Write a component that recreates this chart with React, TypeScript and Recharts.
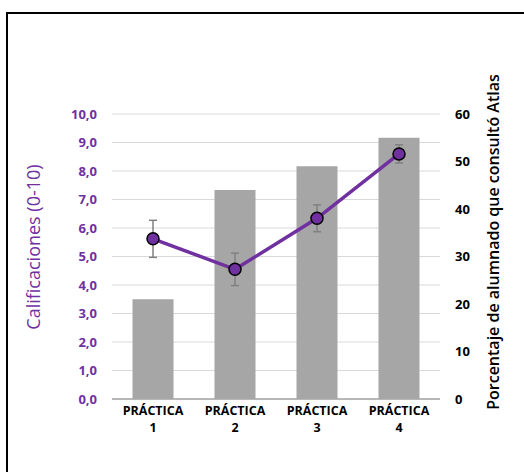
import React from 'react';
import {
  ComposedChart,
  Bar,
  Line,
  ErrorBar,
  XAxis,
  YAxis,
  CartesianGrid,
} from 'recharts';

const categories = ['PRÁCTICA 1', 'PRÁCTICA 2', 'PRÁCTICA 3', 'PRÁCTICA 4'];
const porcentaje = [21, 44, 49, 55];
const calificaciones = [5.62, 4.55, 6.34, 8.6];
const errores = [0.65, 0.57, 0.47, 0.32];
const leftTicks = [0, 1, 2, 3, 4, 5, 6, 7, 8, 9, 10];
const rightTicks = [0, 10, 20, 30, 40, 50, 60];

const data = categories.map((name, i) => ({
  name,
  pct: porcentaje[i],
  nota: calificaciones[i],
  err: errores[i],
}));

const PURPLE = '#7030A0';
const FONT = '"Open Sans", sans-serif';

function XTick(props: any) {
  const { x, y, payload } = props;
  const parts = String(payload.value).split(' ');
  return (
    <g>
      <text x={x} y={y} textAnchor="middle" fontFamily={FONT} fontWeight={700} fontSize={12.5} fill="#000">
        <tspan x={x} dy={8}>{parts[0]}</tspan>
        <tspan x={x} dy={17}>{parts[1]}</tspan>
      </text>
    </g>
  );
}

function LeftTitle() {
  return (
    <text
      x={33}
      y={247}
      transform="rotate(-90, 33, 247)"
      textAnchor="middle"
      dominantBaseline="central"
      fontFamily={FONT}
      fontSize={18}
      fill={PURPLE}
    >
      Calificaciones (0-10)
    </text>
  );
}

function RightTitle() {
  return (
    <text
      x={493}
      y={242}
      transform="rotate(-90, 493, 242)"
      textAnchor="middle"
      dominantBaseline="central"
      fontFamily={FONT}
      fontWeight={600}
      fontSize={16}
      fill="#000"
    >
      Porcentaje de alumnado que consultó Atlas
    </text>
  );
}

export default function App() {
  return (
    <div style={{ position: 'absolute', left: 0, top: 0, width: 524, height: 472, overflow: 'hidden', background: '#fff' }}>
      <div
        style={{
          position: 'absolute',
          left: 6,
          top: 12,
          width: 540,
          height: 500,
          border: '2px solid #000',
        }}
      />
      <div style={{ position: 'absolute', left: 0, top: 0 }}>
        <ComposedChart
          width={524}
          height={472}
          data={data}
          margin={{ top: 114, right: 0, bottom: 0, left: 0 }}
          barCategoryGap="25%"
        >
          <CartesianGrid yAxisId="left" vertical={false} stroke="#d9d9d9" strokeWidth={1.2} />
          <XAxis
            dataKey="name"
            height={73}
            axisLine={{ stroke: '#a6a6a6', strokeWidth: 1.5 }}
            tickLine={false}
            tick={<XTick />}
            interval={0}
          />
          <YAxis
            yAxisId="left"
            orientation="left"
            width={112}
            domain={[0, 10]}
            ticks={leftTicks}
            axisLine={false}
            tickLine={false}
            tickSize={0}
            tickMargin={15}
            tickFormatter={(v: number) => v.toFixed(1).replace('.', ',')}
            tick={{ fill: PURPLE, fontSize: 13, fontWeight: 700, fontFamily: FONT }}
            label={{ content: () => <LeftTitle /> }}
          />
          <YAxis
            yAxisId="right"
            orientation="right"
            width={84}
            domain={[0, 60]}
            ticks={rightTicks}
            axisLine={false}
            tickLine={false}
            tickSize={0}
            tickMargin={15}
            tick={{ fill: '#000', fontSize: 13, fontWeight: 700, fontFamily: FONT }}
            label={{ content: () => <RightTitle /> }}
          />
          <Bar yAxisId="right" dataKey="pct" fill="#a6a6a6" isAnimationActive={false} />
          <Line
            yAxisId="left"
            dataKey="nota"
            stroke={PURPLE}
            strokeWidth={3.5}
            dot={{ r: 6, fill: PURPLE, stroke: '#000', strokeWidth: 1.5 }}
            isAnimationActive={false}
          >
            <ErrorBar dataKey="err" width={4} stroke="#808080" strokeWidth={1.5} direction="y" />
          </Line>
        </ComposedChart>
      </div>
    </div>
  );
}
